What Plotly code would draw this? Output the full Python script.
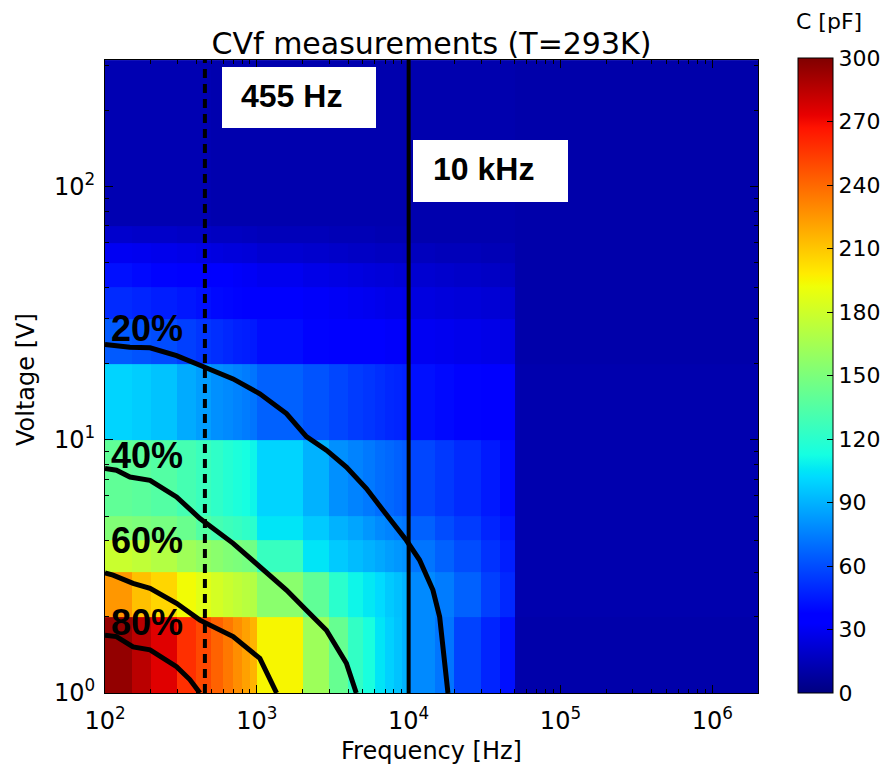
import plotly.graph_objects as go

# ---------------- data ----------------
freq_edges = [100, 150, 200, 300, 400, 500, 600, 700, 800, 900, 1000, 2000, 3000, 4000,
              5000, 6000, 7000, 8000, 9000, 10000, 15000, 20000, 30000, 40000, 50000, 2000000]
volt_edges = [1, 2, 3, 4, 5, 10, 20, 30, 40, 50, 60, 70, 316]

cap_1_2V = [295, 285, 275, 258, 250, 242, 235, 228, 222, 216, 195, 162, 142, 123, 114, 105, 99, 95, 90, 78, 72, 57, 48, 42, 11]
cap_2_3V = [225, 212, 205, 193, 187, 182, 178, 175, 172, 170, 155, 140, 120, 110, 106, 102, 97, 94, 90, 78, 74, 66, 56, 49, 12]
cap_3_4V = [178, 175, 170, 163, 158, 155, 152, 150, 148, 146, 125, 105, 97, 93, 90, 87, 84, 82, 80, 72, 66, 60, 52, 46, 12]
cap_4_5V = [152, 150, 148, 143, 135, 130, 127, 125, 122, 120, 105, 97, 90, 86, 82, 78, 76, 74, 72, 66, 60, 55, 48, 43, 12]
cap_5_10V = [140, 138, 135, 130, 126, 122, 118, 115, 113, 110, 100, 90, 80, 76, 73, 70, 68, 66, 64, 58, 54, 50, 45, 40, 12]
cap_10_20V = [100, 98, 95, 88, 84, 80, 78, 76, 74, 72, 66, 62, 58, 55, 53, 51, 49, 48, 47, 42, 40, 38, 36, 34, 12]
cap_20_30V = [64, 62, 60, 56, 53, 51, 49, 47, 46, 45, 41, 38, 36, 35, 34, 33, 32, 32, 31, 30, 29, 28, 27, 26, 11]
cap_30_40V = [50, 48, 46, 44, 42, 40, 39, 38, 37, 36, 34, 32, 31, 30, 29, 28, 27, 27, 26, 25, 24, 23, 22, 21, 11]
cap_40_50V = [42, 40, 38, 36, 35, 34, 33, 32, 31, 31, 29, 27, 26, 25, 24, 23, 23, 22, 22, 21, 20, 19, 18, 17, 11]
cap_50_60V = [30, 29, 28, 27, 26, 25, 24, 24, 23, 23, 21, 20, 19, 18, 18, 17, 17, 17, 16, 16, 15, 15, 14, 14, 11]
cap_60_70V = [20, 19, 19, 18, 18, 17, 17, 17, 16, 16, 15, 15, 14, 14, 14, 13, 13, 13, 13, 12, 12, 12, 12, 12, 11]
cap_70_300V = [13, 13, 13, 13, 13, 12, 12, 12, 12, 12, 12, 12, 12, 12, 12, 12, 12, 12, 12, 12, 12, 12, 12, 12, 11]

# contour lines (frequency [Hz], voltage [V])
c20_f = [100, 146, 198, 296, 422, 698, 1047, 1567, 2122, 2873, 3890, 5270, 6780, 8300, 9660, 11800, 14450, 16000, 16800, 18150]
c20_v = [23.8, 23.2, 23.1, 21.5, 19.7, 17.4, 15.2, 12.7, 10.3, 9.1, 7.8, 6.42, 5.27, 4.53, 4.01, 3.35, 2.55, 2.0, 1.52, 1.0]
c40_f = [100, 119, 146, 198, 296, 422, 698, 1047, 1567, 2122, 2873, 3890, 4520]
c40_v = [7.70, 7.58, 7.13, 6.92, 5.95, 4.89, 3.90, 3.15, 2.55, 2.12, 1.77, 1.31, 1.0]
c60_f = [100, 113, 153, 198, 296, 422, 698, 1047, 1350]
c60_v = [2.98, 2.92, 2.71, 2.59, 2.26, 1.94, 1.67, 1.37, 1.0]
c80_f = [100, 119, 153, 198, 296, 362, 422]
c80_v = [1.69, 1.67, 1.52, 1.48, 1.27, 1.13, 1.0]
contour_labels = ["20%", "40%", "60%", "80%"]

marker_freqs = [455, 10000]
marker_texts = ["455 Hz", "10 kHz"]

cbar_ticks = [0, 30, 60, 90, 120, 150, 180, 210, 240, 270, 300]
x_decades = [2, 3, 4, 5, 6]
y_decades = [0, 1, 2]

# ---------------- matplotlib "jet" colorscale ----------------
red_seg = [(0.0, 0.0), (0.35, 0.0), (0.66, 1.0), (0.89, 1.0), (1.0, 0.5)]
green_seg = [(0.0, 0.0), (0.125, 0.0), (0.375, 1.0), (0.64, 1.0), (0.91, 0.0), (1.0, 0.0)]
blue_seg = [(0.0, 0.5), (0.11, 1.0), (0.34, 1.0), (0.65, 0.0), (1.0, 0.0)]


def seg_val(seg, t):
    for (a, va), (b, vb) in zip(seg[:-1], seg[1:]):
        if a <= t <= b:
            return va + (vb - va) * (t - a) / (b - a) if b > a else va
    return seg[-1][1]


stops = sorted(set([p for s in (red_seg, green_seg, blue_seg) for p, _ in s]))
jet = []
for t in stops:
    r, g, b = (round(255 * seg_val(s, t)) for s in (red_seg, green_seg, blue_seg))
    jet.append([t, f"rgb({r},{g},{b})"])

z = [cap_1_2V, cap_2_3V, cap_3_4V, cap_4_5V, cap_5_10V, cap_10_20V, cap_20_30V,
     cap_30_40V, cap_40_50V, cap_50_60V, cap_60_70V, cap_70_300V]

FONT = "DejaVu Sans"
W, H = 885, 771
L, R, T, B = 105, 127, 60, 78
PW, PH = W - L - R, H - T - B


def px(xp):
    return (xp - L) / PW


def py(yp):
    return (H - B - yp) / PH


fig = go.Figure()
fig.add_trace(go.Heatmap(
    x=freq_edges, y=volt_edges, z=z, zmin=0, zmax=300, colorscale=jet,
    zsmooth=False, hoverinfo="skip",
    colorbar=dict(
        x=px(798), xanchor="left", y=py(375.5), yanchor="middle",
        len=635 / PH, lenmode="fraction", thickness=35, thicknessmode="pixels",
        xpad=0, ypad=0,
        outlinecolor="black", outlinewidth=1,
        tickvals=cbar_ticks, ticks="inside", ticklen=6, tickcolor="black",
        tickfont=dict(family=FONT, size=22, color="black"),
    ),
))

for fx, vy in [(c20_f, c20_v), (c40_f, c40_v), (c60_f, c60_v), (c80_f, c80_v)]:
    fig.add_trace(go.Scatter(x=fx, y=vy, mode="lines",
                             line=dict(color="black", width=5),
                             hoverinfo="skip", showlegend=False))

fig.add_trace(go.Scatter(x=[marker_freqs[0], marker_freqs[0]], y=[volt_edges[0], volt_edges[-1]],
                         mode="lines", line=dict(color="black", width=4, dash="9px,6px"),
                         hoverinfo="skip", showlegend=False))
fig.add_trace(go.Scatter(x=[marker_freqs[1], marker_freqs[1]], y=[volt_edges[0], volt_edges[-1]],
                         mode="lines", line=dict(color="black", width=4),
                         hoverinfo="skip", showlegend=False))

# white boxes with labels
boxes = [(222, 376, 67, 128, 291.5, 96.5), (413, 568, 140, 202, 483, 168.5)]
shapes = []
annotations = []
for (x0, x1, y0, y1, tx, ty), txt in zip(boxes, marker_texts):
    shapes.append(dict(type="rect", xref="paper", yref="paper",
                       x0=px(x0), x1=px(x1), y0=py(y1), y1=py(y0),
                       fillcolor="white", line=dict(width=0), layer="above"))
    annotations.append(dict(text=f"<b>{txt}</b>", xref="paper", yref="paper",
                            x=px(tx), y=py(ty), xanchor="center", yanchor="middle",
                            showarrow=False,
                            font=dict(family="Liberation Sans", size=32, color="black")))

label_y = [328.5, 455.5, 540, 622]
for lab, ly in zip(contour_labels, label_y):
    annotations.append(dict(text=f"<b>{lab}</b>", xref="paper", yref="paper",
                            x=px(109), y=py(ly), xanchor="left", yanchor="middle",
                            showarrow=False,
                            font=dict(family="Liberation Sans", size=36, color="black")))

# axis titles and colorbar title
annotations.append(dict(text="Frequency [Hz]", xref="paper", yref="paper",
                        x=0.5, y=py(751), xanchor="center", yanchor="middle", showarrow=False,
                        font=dict(family=FONT, size=24, color="black")))
annotations.append(dict(text="Voltage [V]", xref="paper", yref="paper",
                        x=px(26), y=py(380), xanchor="center", yanchor="middle", showarrow=False,
                        textangle=-90, font=dict(family=FONT, size=24, color="black")))
annotations.append(dict(text="C [pF]", xref="paper", yref="paper",
                        x=px(829), y=py(22), xanchor="center", yanchor="middle", showarrow=False,
                        font=dict(family=FONT, size=22, color="black")))

xminor = [m * 10 ** d for d in x_decades for m in range(2, 10) if m * 10 ** d <= freq_edges[-1]]
yminor = [m * 10 ** d for d in y_decades for m in range(2, 10) if m * 10 ** d <= volt_edges[-1]]

axis_common = dict(type="log", showgrid=False, zeroline=False, showline=True,
                   linecolor="black", linewidth=1, mirror="ticks", automargin=False,
                   ticks="inside", ticklen=8, tickcolor="black",
                   tickfont=dict(family=FONT, size=24, color="black"))

fig.update_layout(
    width=W, height=H, autosize=False,
    margin=dict(l=L, r=R, t=T, b=B, pad=0, autoexpand=False),
    paper_bgcolor="white", plot_bgcolor="white",
    showlegend=False,
    title=dict(text="CVf measurements (T=293K)", x=(L + PW / 2) / W, xanchor="center",
               y=1 - 43 / H, yanchor="middle", yref="container",
               font=dict(family=FONT, size=30, color="black")),
    xaxis=dict(axis_common, range=[2, 6.301], ticklabelstandoff=6,
               tickvals=[10 ** d for d in x_decades],
               ticktext=[f"10<sup>{d}</sup>" for d in x_decades],
               minor=dict(tickvals=xminor, ticks="inside", ticklen=4, tickcolor="black", showgrid=False)),
    yaxis=dict(axis_common, range=[0, 2.5], ticklabelstandoff=4,
               tickvals=[10 ** d for d in y_decades],
               ticktext=[f"10<sup>{d}</sup>" for d in y_decades],
               minor=dict(tickvals=yminor, ticks="inside", ticklen=4, tickcolor="black", showgrid=False)),
    shapes=shapes,
    annotations=annotations,
)

fig.write_html("out.html", config={"displayModeBar": False},
               post_script="document.body.style.margin='0';document.body.style.overflow='hidden';")
